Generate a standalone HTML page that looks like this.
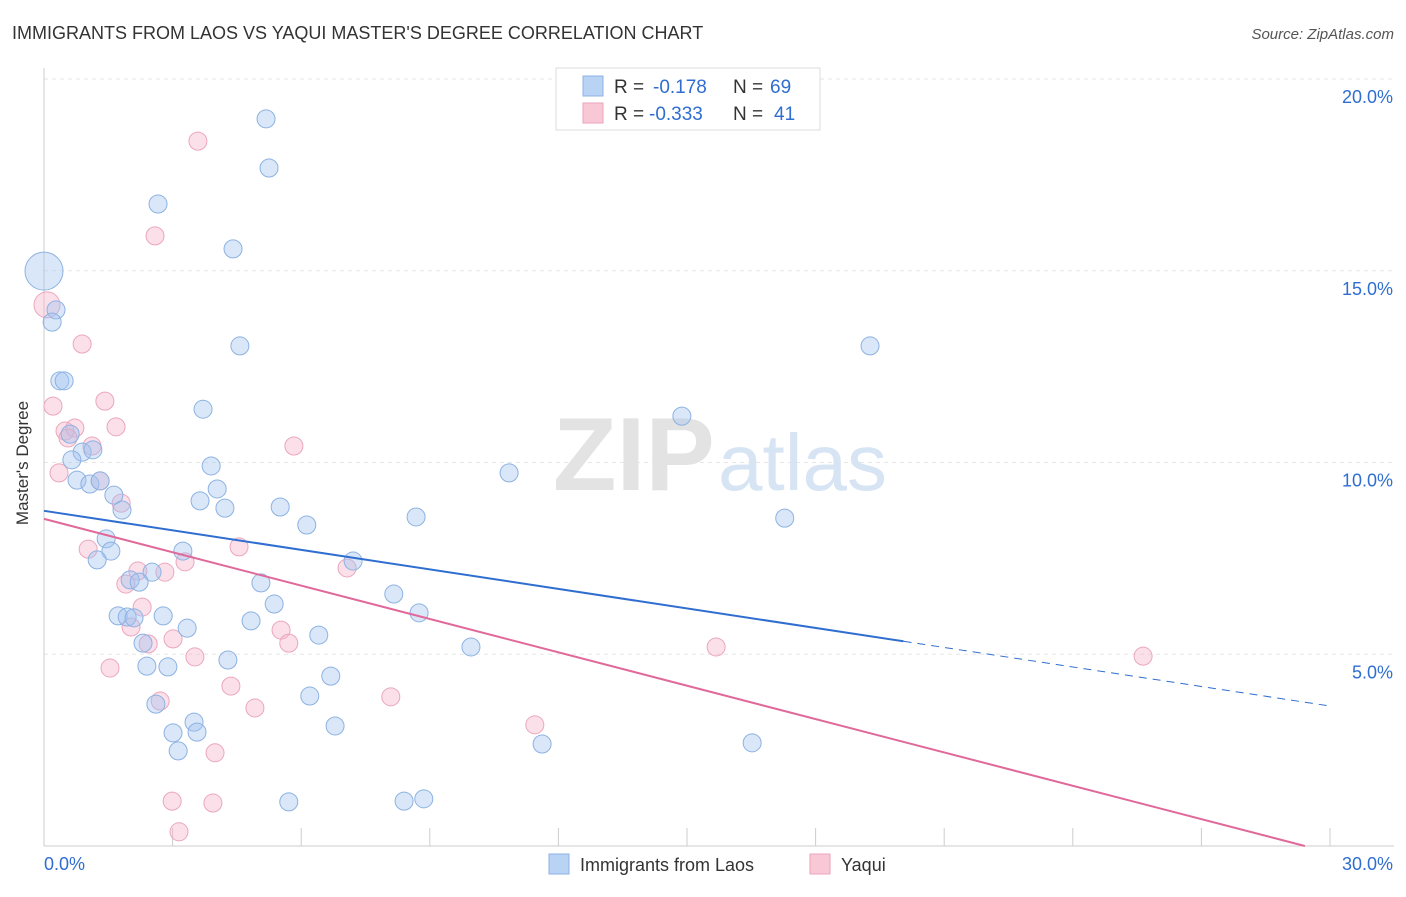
<!DOCTYPE html>
<html><head><meta charset="utf-8"><style>
body{margin:0;background:#fff;font-family:"Liberation Sans",sans-serif;}
svg text{font-family:"Liberation Sans",sans-serif;}
</style></head><body>
<svg width="1406" height="892" xmlns="http://www.w3.org/2000/svg">
<text x="12" y="39" font-size="18" fill="#333">IMMIGRANTS FROM LAOS VS YAQUI MASTER'S DEGREE CORRELATION CHART</text>
<text x="1394" y="39" font-size="15" fill="#555" font-style="italic" text-anchor="end">Source: ZipAtlas.com</text>
<g id="grid"></g>
<g>
<text x="553" y="490" font-size="104" fill="#e3e3e3" font-family="Liberation Serif" font-weight="bold">ZIP</text>
<text x="718" y="490" font-size="80" fill="#d7e4f4">atlas</text>
</g>
<g id="axes"></g>
<g id="pts"></g>
<g id="lines"></g>
<text x="20" y="455" font-size="17" fill="#333" transform="rotate(-90 28 455)" text-anchor="middle">Master's Degree</text>
<g>
<rect x="556" y="68" width="264" height="62" fill="#fff" stroke="#ddd"/>
<rect x="583" y="76" width="20" height="20" fill="#b9d3f5" stroke="#8fb2e6"/>
<rect x="583" y="103" width="20" height="20" fill="#f9c8d7" stroke="#eaa3bb"/>
<text x="614" y="93" font-size="19" fill="#333">R = <tspan x="653" fill="#2f6ed0">-0.178</tspan><tspan x="733">N = </tspan><tspan x="770" fill="#2f6ed0">69</tspan></text>
<text x="614" y="120" font-size="19" fill="#333">R = <tspan x="649" fill="#2f6ed0">-0.333</tspan><tspan x="733">N = </tspan><tspan x="774" fill="#2f6ed0">41</tspan></text>
</g>
<g>
<rect x="549" y="854" width="20" height="20" fill="#b9d3f5" stroke="#8fb2e6"/>
<text x="580" y="871" font-size="18" fill="#333">Immigrants from Laos</text>
<rect x="810" y="854" width="20" height="20" fill="#f9c8d7" stroke="#eaa3bb"/>
<text x="841" y="871" font-size="18" fill="#333">Yaqui</text>
</g>
</svg>
<script>
const yTicks=[5,10,15,20];
const yTickLabels=["5.0%","10.0%","15.0%","20.0%"];
const xTickLabels=["0.0%","30.0%"];
const blueX=[5.18,5.25,2.66,4.41,0,0.28,0.19,4.57,19.27,0.37,0.47,3.71,14.88,0.61,0.89,1.14,0.65,3.90,10.85,0.77,1.07,1.31,4.04,1.63,3.64,4.22,5.51,1.82,8.68,17.28,6.13,1.45,1.56,3.24,1.24,7.21,2.52,5.06,2.01,2.22,8.16,5.37,8.75,1.73,1.94,2.78,2.10,4.83,3.34,6.41,2.31,9.96,4.29,2.40,2.89,6.69,2.61,6.20,3.50,6.79,3.01,3.57,11.62,16.52,3.13,5.71,8.40,8.86];
const blueY=[18.96,17.68,16.74,15.57,14.99,13.98,13.66,13.04,13.04,12.13,12.13,11.39,11.21,10.74,10.27,10.33,10.07,9.91,9.73,9.54,9.44,9.52,9.31,9.15,9.00,8.81,8.84,8.76,8.58,8.55,8.37,8.01,7.69,7.69,7.46,7.43,7.14,6.86,6.94,6.88,6.57,6.31,6.08,6.00,5.97,6.00,5.95,5.87,5.68,5.50,5.29,5.19,4.85,4.69,4.67,4.43,3.70,3.91,3.23,3.13,2.95,2.97,2.66,2.69,2.48,1.15,1.17,1.23];
const pinkX=[3.59,2.59,0.07,0.89,0.21,1.42,0.49,0.72,1.68,0.56,1.12,5.83,0.35,1.31,1.80,1.03,4.55,3.29,7.07,2.19,2.82,1.91,2.29,5.53,2.03,3.01,2.43,5.71,15.68,25.64,3.52,1.54,4.36,8.09,2.71,4.92,11.45,3.99,2.99,3.94,3.15];
const pinkY=[18.38,15.91,14.11,13.09,11.47,11.60,10.82,10.90,10.93,10.64,10.43,10.43,9.73,9.52,8.94,7.74,7.80,7.41,7.25,7.17,7.14,6.83,6.23,5.63,5.71,5.40,5.27,5.29,5.19,4.95,4.93,4.64,4.17,3.89,3.78,3.60,3.16,2.43,1.17,1.12,0.37];
const blueTrend=[8.74,3.65];
const pinkTrend=[8.53,-0.17];
const NS="http://www.w3.org/2000/svg";
const X=v=>44+v/30*1286, Y=v=>846-v*38.35;
function mk(t,a,p){const e=document.createElementNS(NS,t);for(const k in a)e.setAttribute(k,a[k]);p.appendChild(e);return e;}
const grid=document.getElementById('grid'),axes=document.getElementById('axes'),pts=document.getElementById('pts'),lines=document.getElementById('lines');
yTicks.forEach((v,i)=>{
 const l=mk('line',{x1:44,x2:1394,y1:Y(v),y2:Y(v),stroke:'#e6e6e6','stroke-dasharray':'4,4'},grid);
 
 
 const t=mk('text',{x:1393,y:Y(v)+24,'font-size':18,fill:'#2f6ed0','text-anchor':'end'},axes);t.textContent=yTickLabels[i];
 
 
});
const tl=mk('line',{x1:44,x2:1394,y1:79,y2:79,stroke:'#e6e6e6','stroke-dasharray':'4,4'},grid);


const xa=mk('line',{x1:44,x2:1394,y1:846,y2:846,stroke:'#ccc'},axes);


const ya=mk('line',{x1:44,x2:44,y1:68,y2:846,stroke:'#ccc'},axes);


for(let i=0;i<=10;i++){const tk=mk('line',{x1:X(i*3),x2:X(i*3),y1:846,y2:828,stroke:'#ccc'},axes);
 
 }
[[0,44,'start'],[30,1393,'end']].forEach((d,i)=>{const t=mk('text',{x:d[1],y:870,'font-size':18,fill:'#2f6ed0','text-anchor':d[2]},axes);t.textContent=xTickLabels[i];
 
 });
pinkX.forEach((x,i)=>{const c=mk('circle',{cx:X(x),cy:Y(pinkY[i]),r:i==2?13:9,fill:'rgba(245,178,200,0.4)',stroke:'#eba6be','stroke-width':1},pts);
 
 });
blueX.forEach((x,i)=>{const c=mk('circle',{cx:X(x),cy:Y(blueY[i]),r:i==4?19:9,fill:'rgba(160,196,240,0.4)',stroke:'#8db2e2','stroke-width':1},pts);
 
 });
const bx=20.05, by=blueTrend[0]+(blueTrend[1]-blueTrend[0])*bx/30;
const b1=mk('line',{x1:X(0),y1:Y(blueTrend[0]),x2:X(bx),y2:Y(by),stroke:'#2f6ed0','stroke-width':2},lines);


const b2=mk('line',{x1:X(bx),y1:Y(by),x2:X(30),y2:Y(blueTrend[1]),stroke:'#2f6ed0','stroke-width':1,'stroke-dasharray':'8,6'},lines);


const pz=30*pinkTrend[0]/(pinkTrend[0]-pinkTrend[1]);
const p1=mk('line',{x1:X(0),y1:Y(pinkTrend[0]),x2:X(pz),y2:Y(0),stroke:'#e0699a','stroke-width':2},lines);


</script>
</body></html>
